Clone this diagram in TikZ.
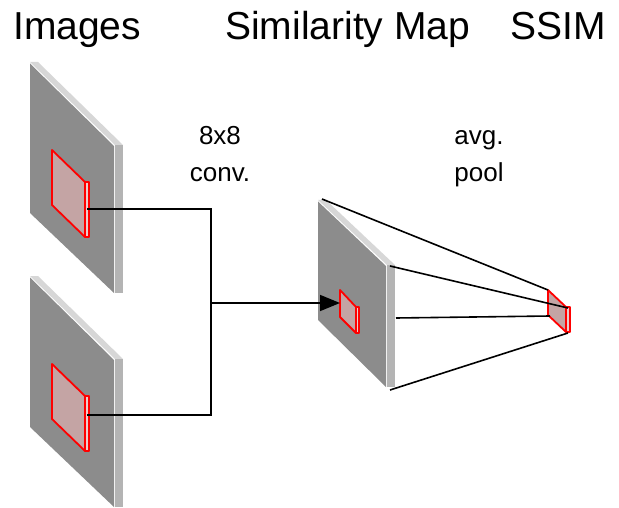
\documentclass[tikz,border=0pt]{standalone}
\usepackage{fontspec}
\setmainfont{Liberation Sans}
\usetikzlibrary{arrows.meta}
\definecolor{facegray}{RGB}{140,140,140}
\definecolor{topgray}{RGB}{215,215,215}
\definecolor{sidegray}{RGB}{180,180,180}
\definecolor{patchfill}{RGB}{196,164,164}
\definecolor{patchside}{RGB}{235,205,205}
\tikzset{
  face/.style={fill=facegray,draw=none},
  topface/.style={fill=topgray,draw=none},
  sideface/.style={fill=sidegray,draw=none},
  patch/.style={fill=patchfill,draw=red,line width=1.8pt,line join=round},
  patchsd/.style={fill=patchside,draw=red,line width=1.8pt,line join=round},
  wire/.style={draw=black,line width=1.6pt},
  title/.style={font=\fontsize{39}{44}\selectfont,inner sep=0pt,anchor=base west},
  lbl/.style={font=\fontsize{26}{30}\selectfont,inner sep=0pt,anchor=base},
}
\begin{document}
\begin{tikzpicture}[x=1pt,y=-1pt]
\useasboundingbox (0,0) rectangle (619,508);
% image plates
\foreach \dy in {0,214}{
  \begin{scope}[yshift=-\dy pt]
  \fill[topface] (30,62) -- (38,62) -- (123,145) -- (115,145) -- cycle;
  \fill[sideface] (115,145) -- (123,145) -- (123,293) -- (115,293) -- cycle;
  \fill[face] (30,63.5) -- (114,146) -- (114,293) -- (30,213) -- cycle;
  \draw[patchsd] (85,182) -- (89,182) -- (89,237) -- (85,237) -- cycle;
  \draw[patch] (52,150) -- (85,182) -- (85,237) -- (52,205) -- cycle;
  \end{scope}
}
% similarity map plate
\fill[topface] (318,200) -- (326,200) -- (395,265) -- (387,265) -- cycle;
\fill[sideface] (387,265) -- (395,265) -- (395,387) -- (387,387) -- cycle;
\fill[face] (318,201.5) -- (386,266) -- (386,387) -- (318,320) -- cycle;
\draw[patchsd] (356,307) -- (359,307) -- (359,333) -- (356,333) -- cycle;
\draw[patch] (340,290) -- (356,307) -- (356,333) -- (340,317) -- cycle;
% SSIM patch
\draw[patchsd] (566,307) -- (570,307) -- (570,332) -- (566,332) -- cycle;
\draw[patch] (548,290) -- (566,307) -- (566,332) -- (548,315) -- cycle;
% coordinates
\coordinate (imgA) at (87,209);
\coordinate (imgB) at (87,415);
\coordinate (jA) at (211,209);
\coordinate (jB) at (211,415);
\coordinate (jM) at (211,303);
\coordinate (mapIn) at (340,303);
\coordinate (m1) at (322,199);
\coordinate (m2) at (390,266);
\coordinate (m3) at (396,318);
\coordinate (m4) at (390,390);
\coordinate (s1) at (548,290);
\coordinate (s2) at (568,308);
\coordinate (s3) at (550,316);
\coordinate (s4) at (568,333);
% connectors
\draw[wire] (imgA) -- (jA) -- (jB) -- (imgB);
\draw[wire,-{Triangle[length=20pt,width=16pt]}] (jM) -- (mapIn);
\draw[wire] (m1) -- (s1);
\draw[wire] (m2) -- (s2);
\draw[wire] (m3) -- (s3);
\draw[wire] (m4) -- (s4);
% texts
\node[title] (tImg) at (13,40) {Images};
\node[title] (tSim) at (225,40) {Similarity Map};
\node[title] (tSsim) at (510,40) {SSIM};
\node[lbl] (l1) at (220,145) {8x8};
\node[lbl] (l2) at (220,182) {conv.};
\node[lbl] (l3) at (479,145) {avg.};
\node[lbl] (l4) at (479,182) {pool};
\end{tikzpicture}
\end{document}
